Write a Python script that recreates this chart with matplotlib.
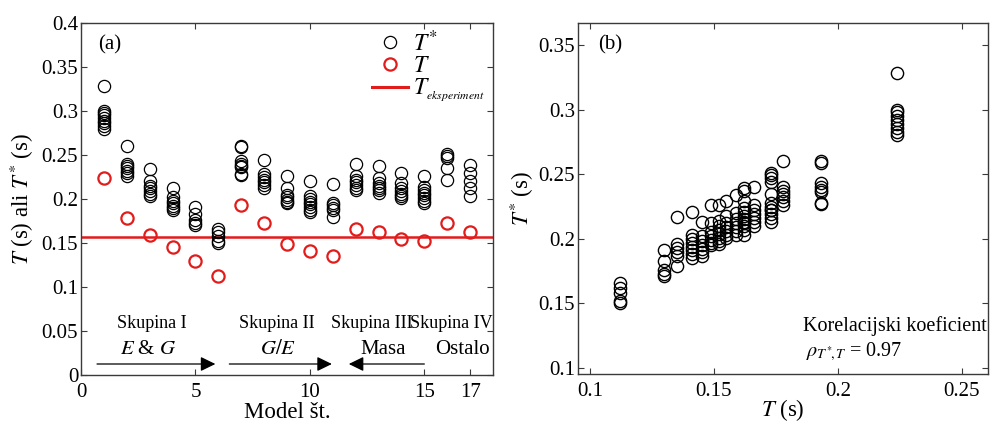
import numpy as np
import matplotlib
matplotlib.use("Agg")
import matplotlib.pyplot as plt
from matplotlib.lines import Line2D

plt.rcParams['font.family'] = ['Liberation Serif', 'DejaVu Serif']
plt.rcParams['mathtext.fontset'] = 'stix'

# ---------------- data ----------------
models = np.arange(1, 18)
T = [0.224, 0.178, 0.159, 0.145, 0.130, 0.112, 0.193, 0.173, 0.149,
     0.141, 0.135, 0.166, 0.162, 0.155, 0.152, 0.173, 0.162]
T_exp = 0.157

t_star_1 = [0.328, 0.300, 0.298, 0.295, 0.292, 0.289, 0.286, 0.283, 0.280]
t_star_2 = [0.260, 0.240, 0.237, 0.235, 0.232, 0.229, 0.226]
t_star_3 = [0.234, 0.220, 0.215, 0.212, 0.209, 0.206, 0.203]
t_star_4 = [0.213, 0.202, 0.198, 0.195, 0.192, 0.190, 0.187]
t_star_5 = [0.191, 0.183, 0.176, 0.173, 0.171]
t_star_6 = [0.166, 0.162, 0.158, 0.152, 0.150]
t_star_7 = [0.260, 0.259, 0.243, 0.240, 0.238, 0.236, 0.228, 0.227]
t_star_8 = [0.244, 0.228, 0.225, 0.222, 0.219, 0.216, 0.213]
t_star_9 = [0.226, 0.212, 0.205, 0.202, 0.199, 0.197, 0.195]
t_star_10 = [0.221, 0.203, 0.200, 0.197, 0.194, 0.191, 0.188, 0.185]
t_star_11 = [0.217, 0.196, 0.193, 0.190, 0.187, 0.179]
t_star_12 = [0.240, 0.226, 0.222, 0.219, 0.216, 0.213, 0.210]
t_star_13 = [0.237, 0.224, 0.218, 0.215, 0.212, 0.210, 0.207]
t_star_14 = [0.229, 0.218, 0.212, 0.209, 0.206, 0.203, 0.201]
t_star_15 = [0.226, 0.214, 0.210, 0.207, 0.204, 0.201, 0.198, 0.196]
t_star_16 = [0.251, 0.249, 0.247, 0.235, 0.222]
t_star_17 = [0.239, 0.229, 0.221, 0.213, 0.203]

t_star = [t_star_1, t_star_2, t_star_3, t_star_4, t_star_5, t_star_6,
          t_star_7, t_star_8, t_star_9, t_star_10, t_star_11, t_star_12,
          t_star_13, t_star_14, t_star_15, t_star_16, t_star_17]

groups = ["Skupina I", "Skupina II", "Skupina III", "Skupina IV"]
group_sub = [r"$E$ & $G$", r"$G/E$", "Masa", "Ostalo"]

# flatten
mx = np.concatenate([[m] * len(v) for m, v in zip(models, t_star)])
tx = np.concatenate([[t] * len(v) for t, v in zip(T, t_star)])
ty = np.concatenate(t_star)

RED = '#e21b1b'
SPINE = '#3a3a3a'

fig = plt.figure(figsize=(9.9, 4.25), dpi=100)
ax1 = fig.add_axes([81 / 990, 50 / 425, 412 / 990, 352 / 425])
ax2 = fig.add_axes([578 / 990, 51 / 425, 410 / 990, 351 / 425])

mk = dict(marker='o', linestyle='none', markersize=8.8, markerfacecolor='none')

# ---------- panel (a) ----------
ax1.axhline(T_exp, color=RED, lw=1.8, zorder=1)
ax1.plot(mx, ty, markeredgecolor='black', markeredgewidth=0.9, **mk, zorder=3)
ax1.plot(models, T, markeredgecolor=RED, markeredgewidth=1.6, **mk, zorder=3)

ax1.set_xlim(0, 18)
ax1.set_ylim(0, 0.4)
ax1.set_xticks([0, 5, 10, 15, 17])
ax1.set_xticklabels(['0', '5', '10', '15', '17'])
yt = [0, 0.05, 0.1, 0.15, 0.2, 0.25, 0.3, 0.35, 0.4]
ax1.set_yticks(yt)
ax1.set_yticklabels(['0', '0.05', '0.1', '0.15', '0.2', '0.25', '0.3', '0.35', '0.4'])
ax1.set_xlabel('Model št.', fontsize=16.5, labelpad=0)
ax1.set_ylabel(r'$T$ (s) ali $T^{*}$ (s)', fontsize=16.5, labelpad=4)
ax1.text(0.75, 0.375, '(a)', fontsize=15, ha='left', va='center')

leg_handles = [
    Line2D([], [], color='black', markeredgewidth=0.9, **mk),
    Line2D([], [], color=RED, markeredgecolor=RED, markeredgewidth=1.6, **mk),
    Line2D([], [], color=RED, lw=2.2),
]
leg = ax1.legend(leg_handles, [r'$T^{*}$', r'$T$', r'$T_{{}_{eksperiment}}$'],
                 loc='upper right', bbox_to_anchor=(1.015, 1.02), frameon=False,
                 fontsize=17, handlelength=1.5, handletextpad=0.25,
                 labelspacing=0.0, borderaxespad=0.2)

# group annotations
grp_x = [3.1, 8.57, 12.7, 16.2]
sub_x = [2.96, 8.6, 13.2, 16.65]
for g, gx in zip(groups, grp_x):
    ax1.text(gx, 0.058, g, fontsize=13, ha='center', va='center')
for s, sx in zip(group_sub, sub_x):
    ax1.text(sx, 0.0295, s, fontsize=15, ha='center', va='center')

arrows = [(0.7, 5.87), (6.48, 10.96), (15.0, 11.7)]
for x0, x1 in arrows:
    ax1.annotate('', xy=(x1, 0.0125), xytext=(x0, 0.0125),
                 arrowprops=dict(arrowstyle='-|>,head_length=0.45,head_width=0.22',
                                 color='black', lw=0.9, mutation_scale=20,
                                 shrinkA=0, shrinkB=0))

# ---------- panel (b) ----------
ax2.plot(tx, ty, markeredgecolor='black', markeredgewidth=1.0, **mk)
ax2.set_xlim(0.0952, 0.2605)
ax2.set_ylim(0.0954, 0.367)
ax2.set_xticks([0.1, 0.15, 0.2, 0.25])
ax2.set_xticklabels(['0.1', '0.15', '0.2', '0.25'])
ax2.set_yticks([0.1, 0.15, 0.2, 0.25, 0.3, 0.35])
ax2.set_yticklabels(['0.1', '0.15', '0.2', '0.25', '0.3', '0.35'])
ax2.set_xlabel(r'$T$ (s)', fontsize=16.5, labelpad=-3)
ax2.set_ylabel(r'$T^{*}$ (s)', fontsize=16.5, labelpad=2)
ax2.text(0.1033, 0.35, '(b)', fontsize=15, ha='left', va='center')
ax2.text(0.2600, 0.1325, 'Korelacijski koeficient', fontsize=14.5,
         ha='right', va='center')
ax2.text(0.1870, 0.1124, r'$\rho_{T^{*}\!,T}$ = 0.97', fontsize=14.5,
         ha='left', va='center')

for ax in (ax1, ax2):
    ax.tick_params(direction='in', length=4, width=0.8, labelsize=15,
                   top=True, right=True, pad=2, color=SPINE)
    ax.tick_params(axis='x', pad=6)
    for sp in ax.spines.values():
        sp.set_color(SPINE)
        sp.set_linewidth(1.0)

fig.savefig('out.png', dpi=100)
